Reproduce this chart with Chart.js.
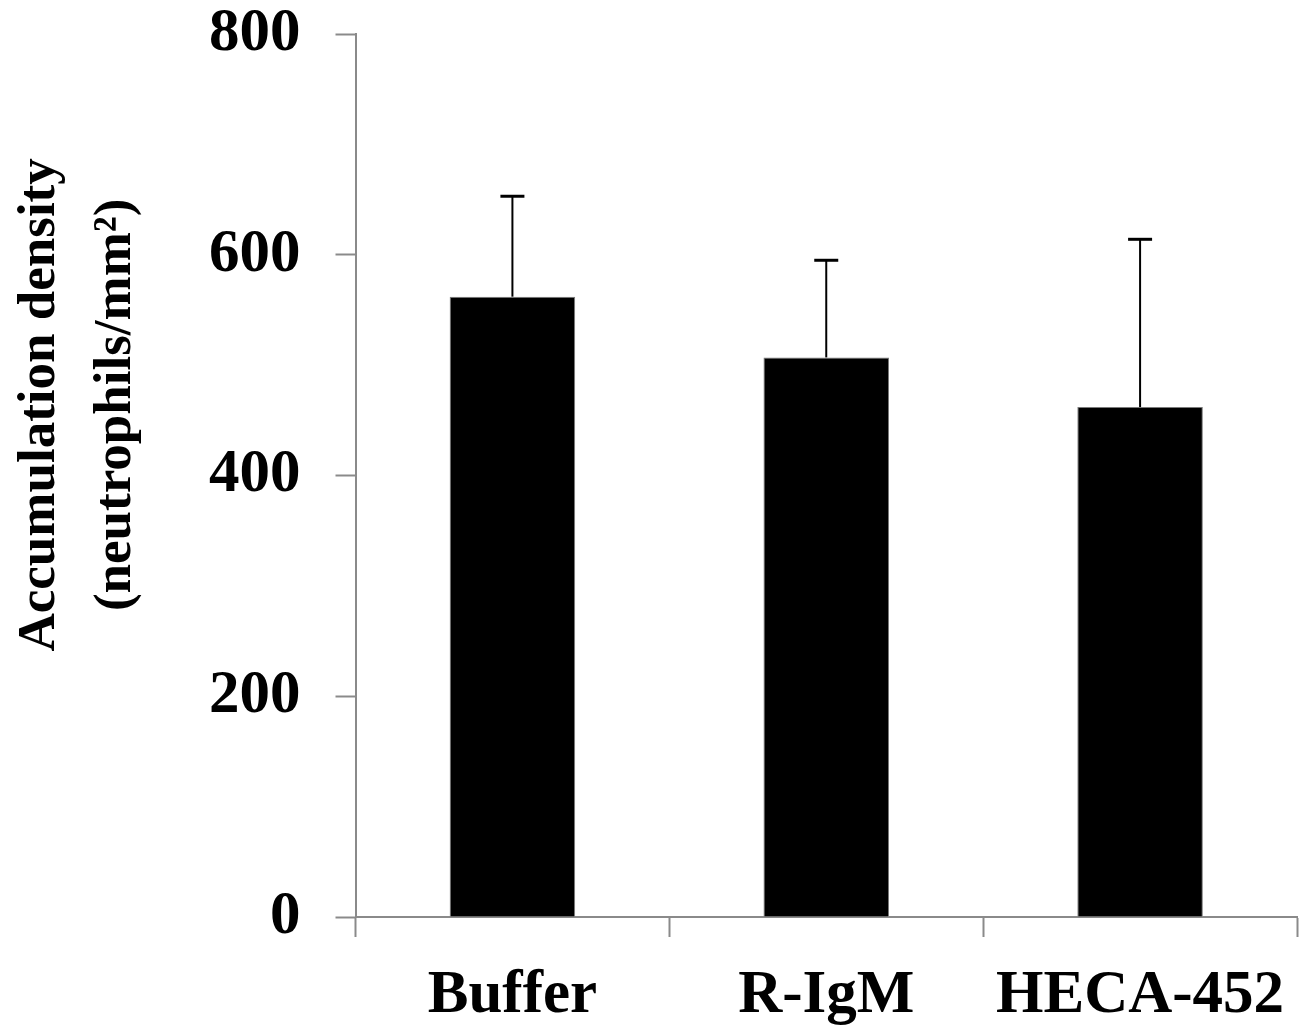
<!DOCTYPE html>
<html>
<head>
<meta charset="utf-8">
<script src="https://cdn.jsdelivr.net/npm/chart.js@4/dist/chart.umd.min.js"></script>
<style>
  html, body { margin: 0; padding: 0; background: #fff; }
  #wrap { width: 1308px; height: 1026px; }
</style>
</head>
<body>
<div id="wrap"><canvas id="Barchart"></canvas></div>
<script>
let categories = ["Buffer", "R-IgM", "HECA-452"];
let meanValues = [562, 507, 462];
let errValues = [91, 88, 152];
let yTicks = [0, 200, 400, 600, 800];
let yTitle = ["Accumulation density", "(neutrophils/mm\u00B2)"];

let axisColor = "#8a8a8a";
let fontFam = "'Liberation Serif', 'Times New Roman', serif";

// draws the upward error bars from the bar tops
let errorBars = {
    id: "errorBars",
    afterDatasetsDraw(chart) {
        let ctx = chart.ctx;
        let meta = chart.getDatasetMeta(0);
        let yS = chart.scales.y;
        ctx.save();
        ctx.strokeStyle = "#000";
        for (let i = 0; i < meanValues.length; i++) {
            let x = meta.data[i].x;
            let y0 = yS.getPixelForValue(meanValues[i]);
            let y1 = yS.getPixelForValue(meanValues[i] + errValues[i]);
            ctx.lineWidth = 2;
            ctx.beginPath();
            ctx.moveTo(x, y0);
            ctx.lineTo(x, y1);
            ctx.stroke();
            ctx.lineWidth = 3;
            ctx.beginPath();
            ctx.moveTo(x - 12, y1);
            ctx.lineTo(x + 12, y1);
            ctx.stroke();
        }
        ctx.restore();
    }
};

// two line y title, sitting a bit above the middle of the axis
let yTitlePlugin = {
    id: "yTitlePlugin",
    afterDraw(chart) {
        let ctx = chart.ctx;
        let area = chart.chartArea;
        ctx.save();
        ctx.font = "bold 53px " + fontFam;
        ctx.fillStyle = "#000";
        ctx.textAlign = "center";
        ctx.textBaseline = "middle";
        let cy = area.top + (area.bottom - area.top) * 0.42;
        ctx.translate(40, cy);
        ctx.rotate(-Math.PI / 2);
        ctx.fillText(yTitle[0], 0, 0);
        ctx.fillText(yTitle[1], 0, 76);
        ctx.restore();
    }
};

let xAC = document.getElementById("Barchart");
new Chart(xAC, {
    type: "bar",
    data: {
        labels: categories,
        datasets: [{
            data: meanValues,
            backgroundColor: "#000",
            borderColor: "#7a7a7a",
            borderWidth: 1,
            barPercentage: 0.4,
            categoryPercentage: 1.0
        }]
    },
    options: {
        responsive: true,
        maintainAspectRatio: false,
        animation: false,
        layout: { padding: { left: 174, right: 11, top: 34, bottom: 0 } },
        plugins: {
            legend: { display: false },
            tooltip: { enabled: false }
        },
        scales: {
            x: {
                grid: {
                    display: true,
                    offset: true,
                    drawOnChartArea: false,
                    drawTicks: true,
                    tickLength: 20,
                    tickWidth: 2,
                    tickColor: axisColor
                },
                border: { color: axisColor, width: 2 },
                ticks: {
                    color: "#000",
                    padding: 29,
                    font: { family: fontFam, size: 61, weight: "bold", lineHeight: 1 }
                },
                afterFit(scale) {
                    scale.height = 109;
                    scale.paddingLeft = 0;
                    scale.paddingRight = 0;
                }
            },
            y: {
                min: 0,
                max: 800,
                afterBuildTicks(scale) {
                    scale.ticks = yTicks.map(v => ({ value: v }));
                },
                afterFit(scale) {
                    scale.paddingTop = 0;
                    scale.paddingBottom = 0;
                },
                grid: {
                    display: true,
                    drawOnChartArea: false,
                    drawTicks: true,
                    tickLength: 20,
                    tickWidth: 2,
                    tickColor: axisColor
                },
                border: { color: axisColor, width: 2 },
                ticks: {
                    color: "#000",
                    padding: 35,
                    font: { family: fontFam, size: 61, weight: "bold", lineHeight: 1 }
                }
            }
        }
    },
    plugins: [errorBars, yTitlePlugin]
});
</script>
</body>
</html>
